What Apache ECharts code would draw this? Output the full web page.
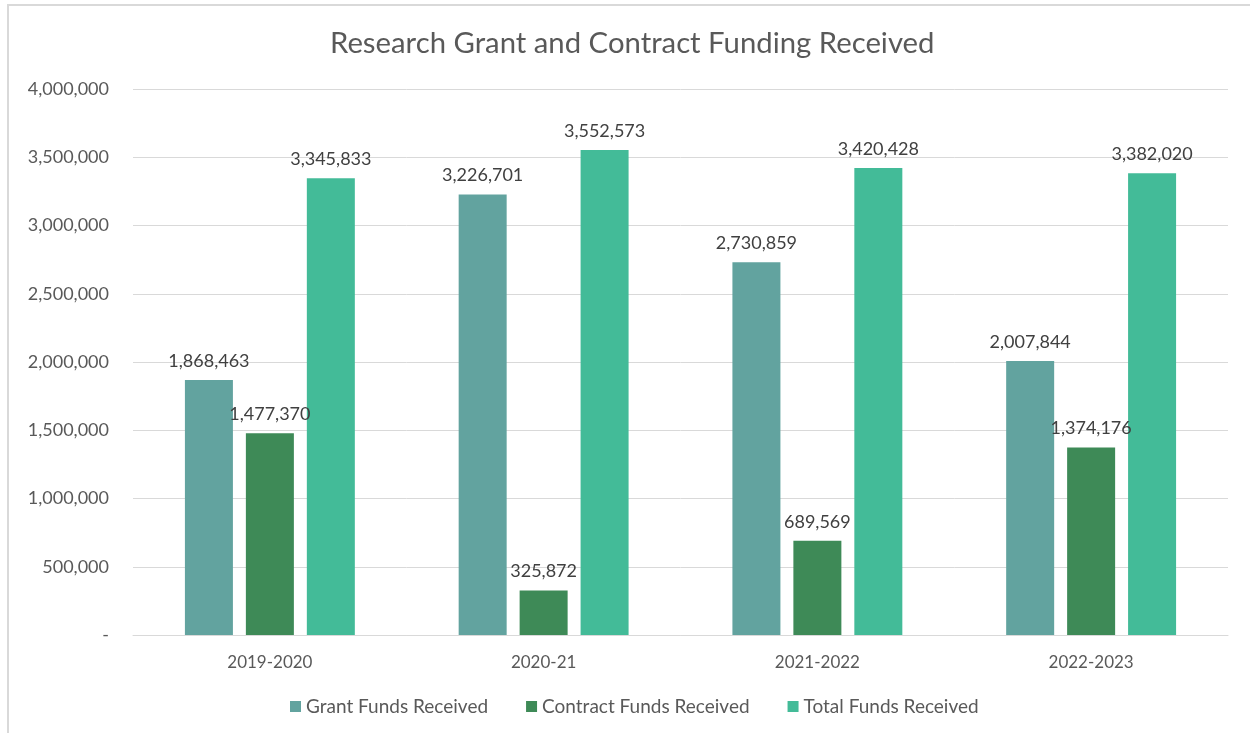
<!DOCTYPE html>
<html>
<head>
<meta charset="utf-8">
<title>Research Grant and Contract Funding Received</title>
<script src="https://cdn.jsdelivr.net/npm/echarts@6/dist/echarts.min.js"></script>
<style>
  html, body { margin: 0; padding: 0; background: #fff; }
  .frame {
    position: absolute; left: 7px; top: 4px; width: 1250px; height: 740px;
    border-left: 2px solid #d9d9d9; border-top: 2px solid #d9d9d9;
  }
  #chart { position: absolute; left: 0; top: 0; width: 1250px; height: 733px; }
</style>
</head>
<body>
<div class="frame"></div>
<div id="chart"></div>
<script>
  const years = ['2019-2020', '2020-21', '2021-2022', '2022-2023']
  const grantFunds = [1868463, 3226701, 2730859, 2007844]
  const contractFunds = [1477370, 325872, 689569, 1374176]
  const totalFunds = [3345833, 3552573, 3420428, 3382020]

  const fmt = v => v === 0 ? '-' : v.toLocaleString('en-US')
  const font = 'Lato, "Open Sans", sans-serif'

  function bar(name, data, color) {
    return {
      name: name,
      type: 'bar',
      data: data,
      barWidth: 48,
      barGap: '27%',
      itemStyle: { color: color },
      label: {
        show: true,
        position: 'top',
        distance: 10,
        formatter: p => fmt(p.value),
        color: '#404040',
        fontSize: 18,
        fontFamily: font
      }
    }
  }

  let myChart = echarts.init(document.getElementById('chart'))
  let option = {
    animation: false,
    title: {
      text: 'Research Grant and Contract Funding Received',
      left: 325,
      top: 24,
      textStyle: { color: '#595959', fontSize: 29.3, fontWeight: 'normal', fontFamily: font }
    },
    legend: {
      bottom: 12,
      left: 285,
      itemWidth: 11,
      itemHeight: 11,
      itemGap: 38,
      icon: 'rect',
      textStyle: { color: '#595959', fontSize: 19, fontFamily: font }
    },
    grid: { left: 133, right: 22, top: 89, bottom: 98 },
    xAxis: {
      type: 'category',
      data: years,
      axisTick: { show: false },
      axisLine: { lineStyle: { color: '#d9d9d9' } },
      axisLabel: { color: '#595959', fontSize: 17, margin: 19, fontFamily: font }
    },
    yAxis: {
      type: 'value',
      min: 0,
      max: 4000000,
      interval: 500000,
      splitLine: { lineStyle: { color: '#d9d9d9' } },
      axisLabel: { color: '#595959', fontSize: 18, margin: 24, formatter: fmt, fontFamily: font }
    },
    series: [
      bar('Grant Funds Received', grantFunds, '#62a39f'),
      bar('Contract Funds Received', contractFunds, '#3e8a57'),
      bar('Total Funds Received', totalFunds, '#43bb98')
    ]
  }
  myChart.setOption(option)
</script>
</body>
</html>
